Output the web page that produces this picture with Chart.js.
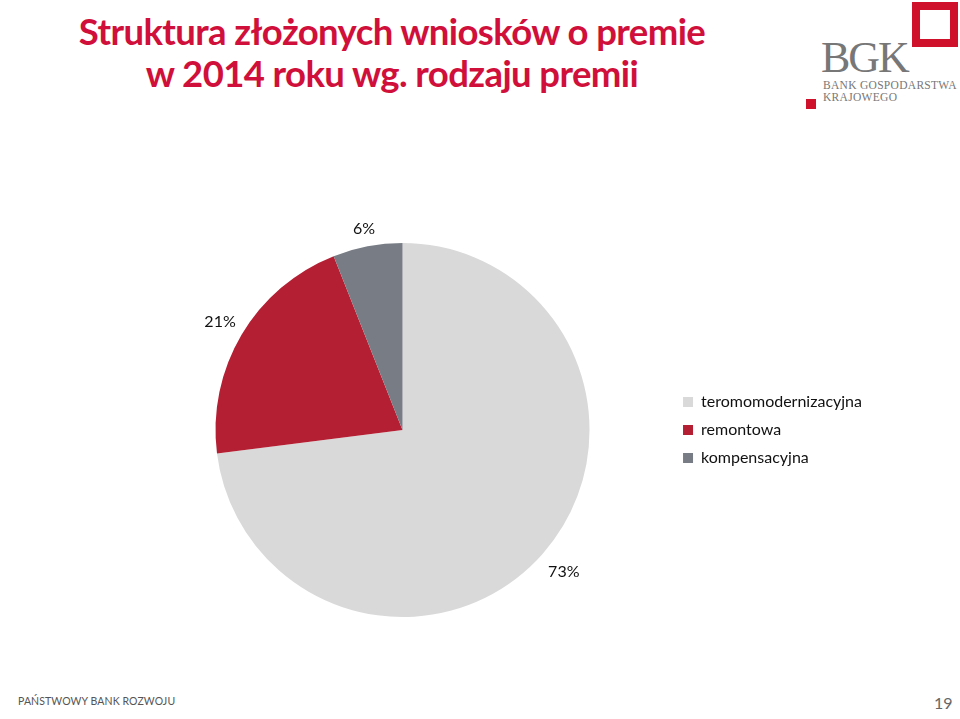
<!DOCTYPE html>
<html>
<head>
<meta charset="utf-8">
<script src="https://cdn.jsdelivr.net/npm/chart.js@4.4.1/dist/chart.umd.min.js"></script>
<style>
  html, body { margin:0; padding:0; background:#fff; width:960px; height:719px; overflow:hidden; position:relative; font-family: Lato, "Open Sans", sans-serif; }
  #title { position:absolute; left:0; width:784px; top:10px; text-align:center; color:#d0103a; font-family:Lato, sans-serif; font-weight:700; font-size:36.5px; line-height:42px; letter-spacing:-0.6px; }
  #wrap { position:absolute; left:100px; top:203px; width:772px; height:454px; }
  #logoSq { position:absolute; left:912px; top:2px; width:30px; height:29px; border:8px solid #d0112b; }
  #logoSmall { position:absolute; left:806px; top:99px; width:10px; height:10px; background:#d0112b; }
  #bgk { position:absolute; left:821px; top:36px; font-family:"Liberation Serif", "DejaVu Serif", serif; font-size:44px; color:#777; letter-spacing:-2px; line-height:44px; }
  #bgkSub { position:absolute; left:823px; top:79px; font-family:"Liberation Serif", "DejaVu Serif", serif; font-size:11.5px; color:#777; line-height:12px; letter-spacing:0.3px; }
  #footL { position:absolute; left:18px; top:695px; font-size:10.5px; color:#555; letter-spacing:0.1px; }
  #footR { position:absolute; left:934px; top:693px; font-size:16px; color:#666; }
</style>
</head>
<body>
<div id="title">Struktura złożonych wniosków o premie<br>w 2014 roku wg. rodzaju premii</div>
<div id="logoSq"></div>
<div id="logoSmall"></div>
<div id="bgk">BGK</div>
<div id="bgkSub">BANK GOSPODARSTWA<br>KRAJOWEGO</div>
<div id="wrap"><canvas id="c"></canvas></div>
<div id="footL">PAŃSTWOWY BANK ROZWOJU</div>
<div id="footR">19</div>
<script>
const categories = ["teromomodernizacyjna", "remontowa", "kompensacyjna"];
const values = [73, 21, 6];
const colors = ["#d9d9d9", "#b41f33", "#787d85"];
const labelOffsets = [28, 25, 18];

const outsideLabels = {
  id: "outsideLabels",
  afterDatasetsDraw(chart) {
    const ctx = chart.ctx;
    const meta = chart.getDatasetMeta(0);
    ctx.save();
    ctx.font = "16px Lato, 'Open Sans', sans-serif";
    ctx.fillStyle = "#111";
    ctx.textAlign = "center";
    ctx.textBaseline = "middle";
    meta.data.forEach((arc, i) => {
      const p = arc.getProps(["x", "y", "startAngle", "endAngle", "outerRadius"], true);
      const a = (p.startAngle + p.endAngle) / 2;
      const r = p.outerRadius + labelOffsets[i];
      ctx.fillText(values[i] + "%", p.x + Math.cos(a) * r, p.y + Math.sin(a) * r);
    });
    ctx.restore();
  }
};

new Chart(document.getElementById("c"), {
  type: "pie",
  data: {
    labels: categories,
    datasets: [{ data: values, backgroundColor: colors, borderWidth: 0 }]
  },
  options: {
    responsive: true,
    maintainAspectRatio: false,
    animation: false,
    layout: { padding: { left: 34, right: 0, top: 40, bottom: 40 } },
    plugins: {
      tooltip: { enabled: false },
      legend: {
        position: "right",
        labels: {
          boxWidth: 10, boxHeight: 10, padding: 12,
          color: "#111",
          font: { family: "Lato, 'Open Sans', sans-serif", size: 16 }
        }
      }
    }
  },
  plugins: [outsideLabels]
});
</script>
</body>
</html>
